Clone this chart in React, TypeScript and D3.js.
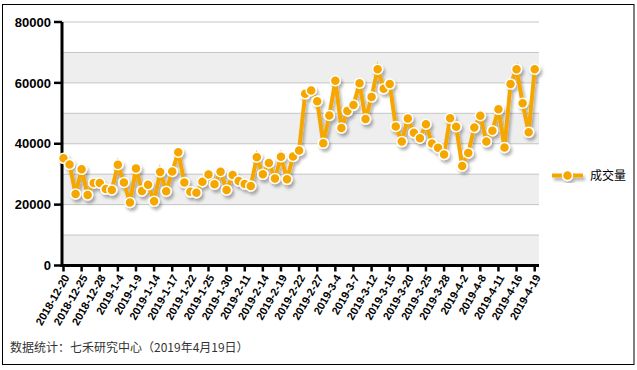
import React from 'react';
import * as d3 from 'd3';

// trading days 2018-12-20 .. 2019-4-19
const dates = [
  '2018-12-20', '2018-12-21', '2018-12-24', '2018-12-25', '2018-12-26', '2018-12-27', '2018-12-28',
  '2019-1-2', '2019-1-3', '2019-1-4', '2019-1-7', '2019-1-8', '2019-1-9', '2019-1-10', '2019-1-11',
  '2019-1-14', '2019-1-15', '2019-1-16', '2019-1-17', '2019-1-18', '2019-1-21', '2019-1-22', '2019-1-23',
  '2019-1-24', '2019-1-25', '2019-1-28', '2019-1-29', '2019-1-30', '2019-1-31', '2019-2-1',
  '2019-2-11', '2019-2-12', '2019-2-13', '2019-2-14', '2019-2-15', '2019-2-18', '2019-2-19', '2019-2-20',
  '2019-2-21', '2019-2-22', '2019-2-25', '2019-2-26', '2019-2-27', '2019-2-28', '2019-3-1',
  '2019-3-4', '2019-3-5', '2019-3-6', '2019-3-7', '2019-3-8', '2019-3-11', '2019-3-12', '2019-3-13',
  '2019-3-14', '2019-3-15', '2019-3-18', '2019-3-19', '2019-3-20', '2019-3-21', '2019-3-22',
  '2019-3-25', '2019-3-26', '2019-3-27', '2019-3-28', '2019-3-29', '2019-4-1', '2019-4-2', '2019-4-3',
  '2019-4-4', '2019-4-8', '2019-4-9', '2019-4-10', '2019-4-11', '2019-4-12', '2019-4-15', '2019-4-16',
  '2019-4-17', '2019-4-18', '2019-4-19',
];

const volume = [
  35200, 33200, 23500, 31600, 23200, 27100, 27100, 25100, 24800, 33100,
  27300, 20700, 31900, 24500, 26500, 21100, 30700, 24400, 30900, 37200,
  27300, 24200, 23900, 27500, 29900, 26700, 30800, 24800, 29700, 27800,
  26800, 26100, 35600, 29950, 33700, 28600, 35700, 28300, 35800, 37800,
  56400, 57500, 54000, 40200, 49300, 60700, 45200, 50800, 52700, 59900,
  48100, 55400, 64500, 58100, 59600, 45700, 40700, 48300, 43600, 41800,
  46400, 40100, 38700, 36500, 48400, 45600, 32700, 37000, 45300, 49200,
  40700, 44300, 51300, 38800, 59600, 64500, 53300, 43800, 64500,
];

const yTicks = [0, 20000, 40000, 60000, 80000];
const tickDates = dates.filter((d, i) => i % 3 === 0);
const seriesName = '成交量';
const footnote = '数据统计：七禾研究中心（2019年4月19日）';

const W = 637, H = 370;
const orange = '#F5A700';
const font = 'Arial, "Liberation Sans", sans-serif';
const cjk = '"Noto Sans CJK SC", sans-serif';

export default function App() {
  const x = d3.scalePoint<string>().domain(dates).range([63.5, 534.7]);
  const y = d3.scaleLinear().domain([0, 80000]).range([265.5, 22]);
  const line = d3.line<number>()
    .x((d, i) => x(dates[i]) as number)
    .y(d => y(d));
  const bands = d3.range(0, 80000, 10000);
  const plotL = 62, plotR = 539;

  return (
    <div style={{ position: 'fixed', left: 0, top: 0 }}>
      <svg width={W} height={H} style={{ display: 'block' }}>
        <defs>
          <filter id="shadow" x="-20%" y="-20%" width="140%" height="140%">
            <feDropShadow dx="2" dy="3" stdDeviation="1.5" floodColor="#000" floodOpacity="0.3" />
          </filter>
        </defs>
        <rect x={W - W} y={0} width={W} height={H} fill="#fff" />
        <rect x={2.5} y={4.5} width={631.5} height={360} fill="none" stroke="#000" strokeWidth={1} />

        {/* background bands + grid */}
        {bands.map(v => (
          <rect key={'b' + v} x={plotL} y={y(v + 10000)} width={plotR - plotL} height={y(v) - y(v + 10000)}
            fill={(v / 10000) % 2 === 0 ? '#EEEEEE' : '#FFFFFF'} />
        ))}
        {d3.range(10000, 80001, 10000).map(v => (
          <line key={'g' + v} x1={plotL} x2={plotR} y1={y(v)} y2={y(v)} stroke="#C4C4C4" strokeWidth={1} />
        ))}

        {/* y axis */}
        <line x1={plotL} x2={plotL} y1={y(80000)} y2={y(0) + 1.5} stroke="#000" strokeWidth={3} />
        {yTicks.map(t => (
          <g key={'y' + t}>
            <line x1={54} x2={plotL} y1={y(t)} y2={y(t)} stroke="#000" strokeWidth={2.5} />
            <text x={51} y={y(t)} dy="0.36em" textAnchor="end" fontFamily={font} fontWeight="bold"
              fontSize={13} fill="#000">{t}</text>
          </g>
        ))}

        {/* x axis */}
        <line x1={plotL - 1.5} x2={plotR} y1={y(0)} y2={y(0)} stroke="#000" strokeWidth={3} />
        {tickDates.map(d => {
          const px = x(d) as number;
          return (
            <g key={'x' + d}>
              <line x1={px} x2={px} y1={y(0)} y2={y(0) + 6} stroke="#000" strokeWidth={2.5} />
              <text transform={`translate(${px + 3},${y(0) + 10}) rotate(-60)`} textAnchor="end" dy="0.35em"
                fontFamily={font} fontWeight="bold" fontSize={11} fill="#000">{d}</text>
            </g>
          );
        })}

        {/* series */}
        <g filter="url(#shadow)">
          <path d={line(volume) || ''} fill="none" stroke={orange} strokeWidth={4} strokeLinejoin="miter" />
          {volume.map((v, i) => (
            <circle key={'p' + i} cx={x(dates[i])} cy={y(v)} r={5} fill={orange} stroke="#fff" strokeWidth={1.5} />
          ))}
        </g>

        {/* legend */}
        <g filter="url(#shadow)">
          <line x1={552} x2={583} y1={175.5} y2={175.5} stroke={orange} strokeWidth={4} />
          <circle cx={567.5} cy={175.5} r={5} fill={orange} stroke="#fff" strokeWidth={1.5} />
        </g>
        <text x={590} y={180} fontFamily={cjk} fontSize={12} fill="#000">{seriesName}</text>

        <text x={10} y={352} fontFamily={cjk} fontSize={12} fill="#333">{footnote}</text>
      </svg>
    </div>
  );
}
